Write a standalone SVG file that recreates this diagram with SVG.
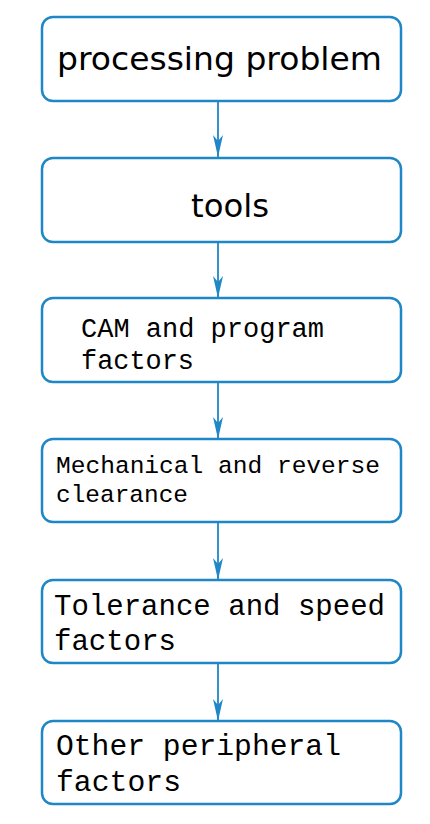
<svg xmlns="http://www.w3.org/2000/svg" width="430" height="824" viewBox="0 0 430 824">
<defs>
<marker id="ah" markerWidth="22" markerHeight="10" refX="22" refY="5" orient="auto" markerUnits="userSpaceOnUse" viewBox="0 0 22 10">
<path d="M0,0 L22,5 L0,10 L6,5 Z" fill="#1f87c6"/>
</marker>
</defs>
<style>
.box{fill:#fff;stroke:#1f87c6;stroke-width:2.5}
.sans{font-family:"DejaVu Sans","Liberation Sans",sans-serif;font-size:32px;fill:#000}
.mono{font-family:"Liberation Mono","DejaVu Sans Mono",monospace;fill:#000}
.edge{stroke:#1f87c6;stroke-width:1.8;fill:none}
</style>
<rect width="430" height="824" fill="#fff"/>
<g id="connectors">
<line class="edge" x1="218" y1="101" x2="218" y2="157" marker-end="url(#ah)"/>
<line class="edge" x1="218" y1="242" x2="218" y2="298" marker-end="url(#ah)"/>
<line class="edge" x1="218" y1="382" x2="218" y2="439" marker-end="url(#ah)"/>
<line class="edge" x1="218" y1="522" x2="218" y2="580" marker-end="url(#ah)"/>
<line class="edge" x1="218" y1="663" x2="218" y2="721" marker-end="url(#ah)"/>
</g>
<g id="n1">
<rect class="box" x="42" y="17" width="359" height="84" rx="11"/>
<text class="sans" x="57" y="70" textLength="325" lengthAdjust="spacingAndGlyphs">processing problem</text>
</g>
<g id="n2">
<rect class="box" x="42" y="158" width="359" height="84" rx="11"/>
<text class="sans" x="191" y="217" textLength="78" lengthAdjust="spacingAndGlyphs">tools</text>
</g>
<g id="n3">
<rect class="box" x="42" y="298" width="359" height="84" rx="11"/>
<text class="mono" font-size="27" x="81" y="337" textLength="243" lengthAdjust="spacingAndGlyphs">CAM and program</text>
<text class="mono" font-size="27" x="81" y="369" textLength="113" lengthAdjust="spacingAndGlyphs">factors</text>
</g>
<g id="n4">
<rect class="box" x="42" y="439" width="359" height="83" rx="11"/>
<text class="mono" font-size="24.5" x="56" y="473" textLength="324" lengthAdjust="spacingAndGlyphs">Mechanical and reverse</text>
<text class="mono" font-size="24.5" x="56" y="502" textLength="132" lengthAdjust="spacingAndGlyphs">clearance</text>
</g>
<g id="n5">
<rect class="box" x="42" y="580" width="359" height="83" rx="11"/>
<text class="mono" font-size="29" x="54" y="615" textLength="331" lengthAdjust="spacingAndGlyphs">Tolerance and speed</text>
<text class="mono" font-size="29" x="54" y="650" textLength="122" lengthAdjust="spacingAndGlyphs">factors</text>
</g>
<g id="n6">
<rect class="box" x="42" y="721" width="359" height="83" rx="11"/>
<text class="mono" font-size="29.5" x="56" y="755" textLength="285" lengthAdjust="spacingAndGlyphs">Other peripheral</text>
<text class="mono" font-size="29.5" x="56" y="791" textLength="125" lengthAdjust="spacingAndGlyphs">factors</text>
</g>
</svg>
